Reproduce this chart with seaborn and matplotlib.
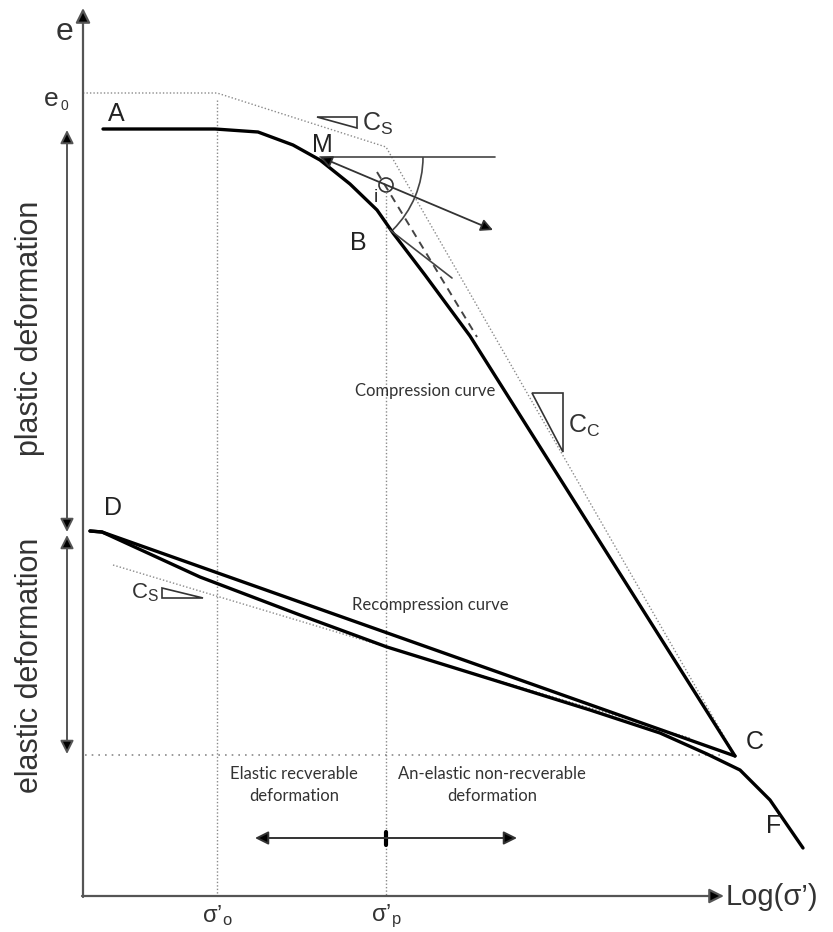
import numpy as np
import matplotlib
matplotlib.use("Agg")
import matplotlib.pyplot as plt
from matplotlib.patches import Arc, Circle, Polygon
import seaborn as sns

sns.set_style("white")
plt.rcParams['font.family'] = ['Liberation Sans', 'DejaVu Sans']
plt.rcParams['mathtext.fontset'] = 'custom'
plt.rcParams['mathtext.rm'] = 'Liberation Sans'
plt.rcParams['mathtext.it'] = 'Liberation Sans:italic'

# ============================================
# Schematic values (picture units: x -> log(sigma'), y -> e, down = lower e)
# ============================================

# virgin compression curve A - M - B - C
comp_x = [103, 215, 258, 293, 320, 350, 377, 393, 425, 470, 735]
comp_e = [129, 129, 132, 145, 160, 184, 210, 233, 275, 336, 756]

# recompression line D -> C (straight)
recomp_x = [90, 102, 735]
recomp_e = [531, 532, 756]

# unloading curve D ... continuing past C to F
unload_x = [90, 102, 200, 300, 387, 500, 590, 660, 707, 740, 770, 803]
unload_e = [531, 532, 577, 615, 647, 682, 710, 733, 754, 770, 800, 848]

# idealised bilinear envelope (grey dotted)
env_x = [83, 217, 386, 733]
env_e = [93, 93, 147, 752]

# swelling-index guide line (grey dotted)
cs_x = [113, 690]
cs_e = [565, 738]

# Casagrande construction
M_pt = (320, 157)
i_pt = (386, 185)
bisector_x = [377, 477]
bisector_e = [172, 337]
tangent_x = [390, 452]
tangent_e = [230, 278]

sigma_o = 217
sigma_p = 386
e_c = 755

LINE = '#555555'
GREY = '#8a8a8a'

fig = plt.figure(figsize=(8.33, 9.32), dpi=100)
ax = fig.add_axes([0, 0, 1, 1])
ax.set_xlim(0, 833)
ax.set_ylim(932, 0)
ax.axis('off')

# --- axes with arrows
ax.annotate('', xy=(83, 8), xytext=(83, 897),
            arrowprops=dict(arrowstyle='-|>', color=LINE, lw=1.6, mutation_scale=22, fc='black', shrinkA=0, shrinkB=0))
ax.annotate('', xy=(724, 896), xytext=(82, 896),
            arrowprops=dict(arrowstyle='-|>', color=LINE, lw=1.6, mutation_scale=22, fc='black', shrinkA=0, shrinkB=0))
ax.text(65, 32, 'e', fontsize=23, ha='center', va='center', color='#333333')
ax.text(51, 99, 'e', fontsize=19, ha='center', va='center', color='#333333')
ax.text(64, 106, '0', fontsize=10, ha='center', va='center', color='#333333')
ax.text(726, 897, 'Log(σ’)', fontsize=21, ha='left', va='center', color='#333333')
ax.text(sigma_o, 916, 'σ’$_{\\mathrm{o}}$', fontsize=17, ha='center', va='center', color='#333333')
ax.text(sigma_p, 916, 'σ’$_{\\mathrm{p}}$', fontsize=17, ha='center', va='center', color='#333333')

# --- dotted guides
sns.lineplot(x=env_x, y=env_e, sort=False, estimator=None, color=GREY, lw=1.0, ax=ax, linestyle=(0, (1, 1.5)))
sns.lineplot(x=cs_x, y=cs_e, sort=False, estimator=None, color=GREY, lw=1.0, ax=ax, linestyle=(0, (1, 1.5)))
ax.plot([sigma_o, sigma_o], [100, 896], color=GREY, lw=1.0, ls=(0, (1, 1.5)))
ax.plot([sigma_p, sigma_p], [192, 896], color=GREY, lw=1.0, ls=(0, (1, 1.5)))
ax.plot([85, 722], [e_c, e_c], color=GREY, lw=1.2, ls=(0, (1, 3)))

# --- curves
sns.lineplot(x=comp_x, y=comp_e, sort=False, estimator=None, color='black', lw=2.4, ax=ax)
sns.lineplot(x=recomp_x, y=recomp_e, sort=False, estimator=None, color='black', lw=2.4, ax=ax)
sns.lineplot(x=unload_x, y=unload_e, sort=False, estimator=None, color='black', lw=2.4, ax=ax)

# --- Casagrande construction
ax.plot([M_pt[0], 495], [M_pt[1], M_pt[1]], color='#444444', lw=1.2)
ax.annotate('', xy=(493, 230), xytext=M_pt,
            arrowprops=dict(arrowstyle='<|-|>', color='#333333', lw=1.3, mutation_scale=18, fc='black', shrinkA=0, shrinkB=0))
ax.add_patch(Arc(M_pt, 206, 206, theta1=0, theta2=45, color='#444444', lw=1.2))
ax.add_patch(Circle(i_pt, 7, fill=False, ec='#333333', lw=1.2))
sns.lineplot(x=bisector_x, y=bisector_e, sort=False, estimator=None, color='#444444', lw=1.4, ax=ax, linestyle=(0, (4, 3)))
sns.lineplot(x=tangent_x, y=tangent_e, sort=False, estimator=None, color='#444444', lw=1.2, ax=ax)

# --- slope triangles
ax.add_patch(Polygon([(317, 117), (357, 117), (357, 128)], closed=True, fill=False, ec='#333333', lw=1.2))
ax.text(362, 124, 'C$_{\\mathrm{S}}$', fontsize=18, ha='left', va='center', color='#333333')
ax.add_patch(Polygon([(532, 393), (563, 393), (563, 452)], closed=True, fill=False, ec='#333333', lw=1.2))
ax.text(568, 426, 'C$_{\\mathrm{C}}$', fontsize=18, ha='left', va='center', color='#333333')
ax.add_patch(Polygon([(162, 588), (162, 598), (203, 598)], closed=True, fill=False, ec='#333333', lw=1.2))
ax.text(159, 593, 'C$_{\\mathrm{S}}$', fontsize=16, ha='right', va='center', color='#333333')

# --- point labels
for lbl, px, py in [('A', 116, 114), ('M', 322, 145), ('B', 358, 243), ('D', 113, 508),
                    ('C', 755, 742), ('F', 774, 826)]:
    ax.text(px, py, lbl, fontsize=18, ha='center', va='center', color='#222222')
ax.text(376, 198, 'i', fontsize=14, ha='center', va='center', color='#333333')

# --- deformation ranges on the left
ax.annotate('', xy=(67, 130), xytext=(67, 532),
            arrowprops=dict(arrowstyle='<|-|>', color=LINE, lw=1.4, mutation_scale=20, fc='black', shrinkA=0, shrinkB=0))
ax.annotate('', xy=(67, 535), xytext=(67, 754),
            arrowprops=dict(arrowstyle='<|-|>', color=LINE, lw=1.4, mutation_scale=20, fc='black', shrinkA=0, shrinkB=0))
ax.text(30, 328, 'plastic deformation', fontsize=22, rotation=90, ha='center', va='center', color='#333333')
ax.text(30, 665, 'elastic deformation', fontsize=22, rotation=90, ha='center', va='center', color='#333333')

# --- curve names and zones
small = dict(fontsize=12, family=['Lato', 'DejaVu Sans'], color='#333333', ha='center', va='center')
ax.text(425, 391, 'Compression curve', **small)
ax.text(430, 605, 'Recompression curve', **small)
ax.text(294, 785, 'Elastic recverable\ndeformation', linespacing=1.5, **small)
ax.text(492, 785, 'An-elastic non-recverable\ndeformation', linespacing=1.5, **small)

ax.annotate('', xy=(255, 838), xytext=(386, 838),
            arrowprops=dict(arrowstyle='-|>', color='#333333', lw=1.4, mutation_scale=20, fc='black', shrinkA=0, shrinkB=0))
ax.annotate('', xy=(517, 838), xytext=(386, 838),
            arrowprops=dict(arrowstyle='-|>', color='#333333', lw=1.4, mutation_scale=20, fc='black', shrinkA=0, shrinkB=0))
ax.plot([386, 386], [832, 845], color='black', lw=3)

fig.savefig("out.png", dpi=100)
